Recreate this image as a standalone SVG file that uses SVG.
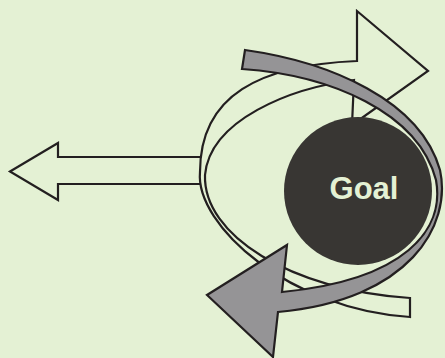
<svg xmlns="http://www.w3.org/2000/svg" width="445" height="358" viewBox="0 0 445 358">
<style>
.ol{fill:#E4F1D4;stroke:#231F20;stroke-width:2.2;stroke-linejoin:miter}
.gr{fill:#959496;stroke:#231F20;stroke-width:2.2;stroke-linejoin:miter}
.lbl{font-family:"Liberation Sans",Arial,sans-serif;font-weight:bold;font-size:31px;fill:#E4F1D4}
</style>
<rect width="445" height="358" fill="#E4F1D4"/>
<g id="connectors">
<path id="left-arrow" class="ol" d="M10,171.5 L58,143 L58,157 L202,157 L202,184 L58,184 L58,200 Z"/>
<path id="ring-arrow" class="ol" d="M357,61 L357,11 L428,71 L352,125 L354,80 C290,88 210,120 205,175 C203,235 290,290 410,298 L410,317 C290,310 195,225 200,172 C200,95 260,65 357,61 Z"/>
</g>
<g id="goal">
<circle cx="358" cy="191" r="74" fill="#383633"/>
<text class="lbl" x="364" y="199" text-anchor="middle">Goal</text>
</g>
<g id="gray-arrow">
<path class="gr" d="M242,69 C330,75 418,112 436,180 C445,230 405,280 282,292 L287,245 L207,295 L273,357 L278,312 C410,300 452,225 440,170 C420,100 330,62 245,50 Z"/>
</g>
</svg>
